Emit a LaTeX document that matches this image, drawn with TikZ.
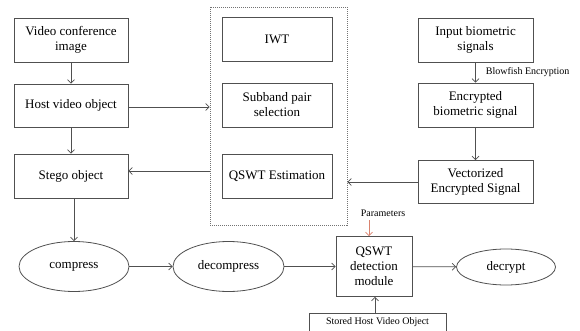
\documentclass[tikz,border=0pt]{standalone}
\usepackage{fontspec}
\setmainfont{Liberation Serif}
\usetikzlibrary{arrows.meta,shapes.geometric}
\definecolor{edge}{HTML}{505050}
\definecolor{param}{HTML}{D9826E}
\tikzset{
    box/.style={draw=edge, line width=0.8pt, align=center, inner sep=0pt,
        font=\fontsize{13}{15}\selectfont},
    oval/.style={ellipse, draw=edge, line width=0.8pt, inner sep=0pt,
        font=\fontsize{13}{15}\selectfont},
    flow/.style={draw=edge, line width=0.7pt, -{Straight Barb[length=3.5pt,width=7pt]}},
    small/.style={font=\fontsize{10}{12}\selectfont, inner sep=0pt}
}
\begin{document}
\begin{tikzpicture}[x=1pt, y=-1pt]
        \clip (0,0) rectangle (580,331);
        
        % Left column
        \node[box, minimum width=114, minimum height=44] (vci) at (71,40) {Video conference\\image};
        \node[box, minimum width=114, minimum height=43] (host) at (71,105.5) {Host video object};
        \node[box, minimum width=114, minimum height=44] (stego) at (71,176) {Stego object};
        
        % Embedding block
        \node[draw=edge!80, line width=0.7pt, dash pattern=on 1pt off 1pt,
            minimum width=137, minimum height=218] (embed) at (278.5,116) {};
        \node[box, minimum width=110, minimum height=44] (iwt) at (277,39.5) {IWT};
        \node[box, minimum width=110, minimum height=44] (subband) at (277,105) {Subband pair\\selection};
        \node[box, minimum width=110, minimum height=44] (qest) at (277,176) {QSWT Estimation};
        
        % Right column
        \node[box, minimum width=115, minimum height=44] (input) at (475.5,40) {Input biometric\\signals};
        \node[box, minimum width=115, minimum height=44] (encbio) at (475.5,105) {Encrypted\\biometric signal};
        \node[box, minimum width=115, minimum height=43] (vecsig) at (475.5,182) {Vectorized\\Encrypted Signal};
        
        % Bottom row
        \node[oval, minimum width=110, minimum height=50] (compress) at (74,266.5) {compress};
        \node[oval, minimum width=111, minimum height=50] (decompress) at (228.5,266.5) {decompress};
        \node[box, minimum width=76, minimum height=60] (qdet) at (374,266.5) {QSWT\\detection\\module};
        \node[oval, minimum width=99, minimum height=36] (decrypt) at (506,267) {decrypt};
        \node[box, small, anchor=north, minimum width=137, inner ysep=4pt, text depth=14pt]
            (stored) at (377.5,313) {Stored Host Video Object};
        \node[small] (params) at (383,213) {Parameters};
        \coordinate (parin) at (369,220);
        
        % Connectors
        \draw[flow] (vci) -- (host);
        \draw[flow] (host) -- (stego);
        \draw[flow] (host.east |- 0,107) -- (embed.west |- 0,107);
        \draw[flow] (embed.west |- 0,171) -- (stego.east |- 0,171);
        \draw[flow] (compress.north |- stego.south) -- (compress.north);
        \draw[flow] (input) -- node[small, right=10pt] {Blowfish Encryption} (encbio);
        \draw[flow] (encbio) -- (vecsig);
        \draw[flow] (vecsig.west) -- (vecsig.west -| embed.east);
        \draw[flow] (compress) -- (decompress);
        \draw[flow] (decompress) -- (qdet);
        \draw[flow] (qdet) -- (decrypt);
        \draw[flow] (stored.north -| 375,0) -- (qdet.south -| 375,0);
        \draw[flow, draw=param] (parin) -- (parin |- qdet.north);
    \end{tikzpicture}
\end{document}
